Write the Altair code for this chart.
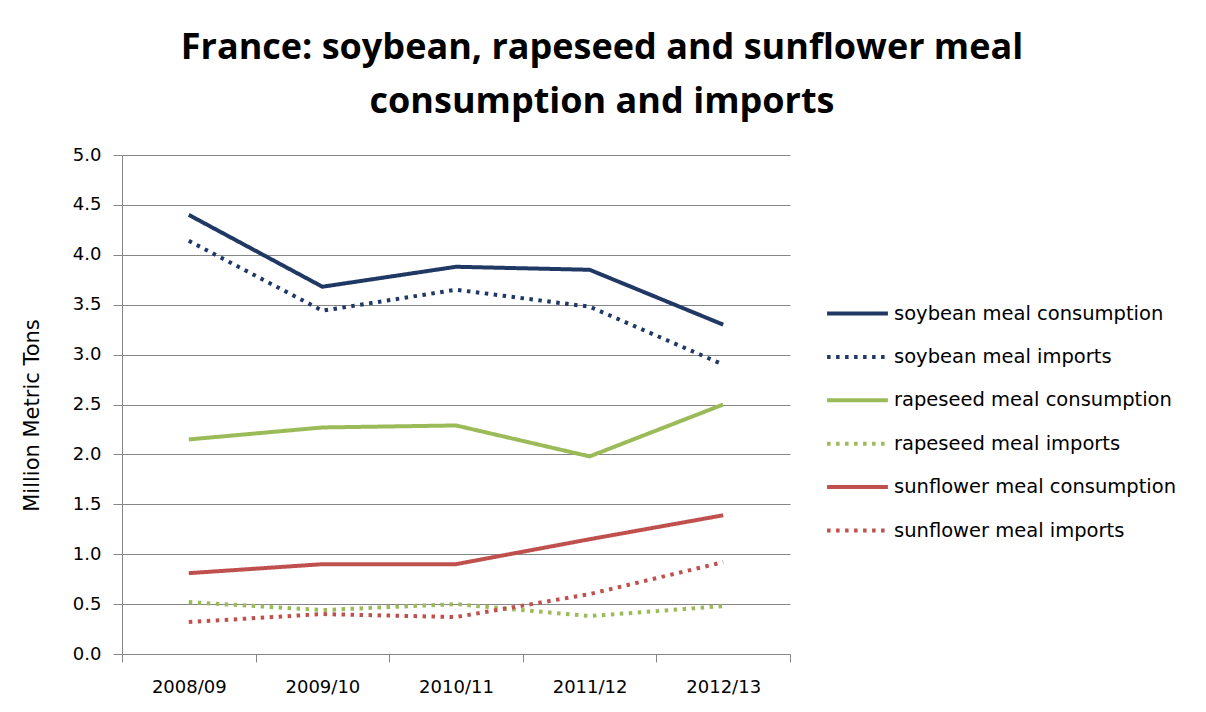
import altair as alt
import pandas as pd

years = ["2008/09", "2009/10", "2010/11", "2011/12", "2012/13"]
series_names = [
    "soybean meal consumption",
    "soybean meal imports",
    "rapeseed meal consumption",
    "rapeseed meal imports",
    "sunflower meal consumption",
    "sunflower meal imports",
]
soy_cons = [4.40, 3.68, 3.88, 3.85, 3.30]
soy_imp = [4.14, 3.44, 3.65, 3.48, 2.90]
rape_cons = [2.15, 2.27, 2.29, 1.98, 2.50]
rape_imp = [0.52, 0.44, 0.50, 0.38, 0.48]
sun_cons = [0.81, 0.90, 0.90, 1.15, 1.39]
sun_imp = [0.32, 0.40, 0.37, 0.60, 0.92]

colors = ["#203864", "#203864", "#9BBB59", "#9BBB59", "#C0504D", "#C0504D"]
dashes = [[1, 0], [3.5, 5.5], [1, 0], [3.5, 5.5], [1, 0], [3.5, 5.5]]

all_vals = [soy_cons, soy_imp, rape_cons, rape_imp, sun_cons, sun_imp]
rows = []
for name, vals in zip(series_names, all_vals):
    for yr, v in zip(years, vals):
        rows.append({"year": yr, "series": name, "value": v})
df = pd.DataFrame(rows)

label_font = "DejaVu Sans"

legend_cfg = dict(
    title=None,
    orient="none",
    legendX=703,
    legendY=126,
    symbolType="stroke",
    symbolStrokeWidth=4,
    symbolSize=3700,
    labelFontSize=19.5,
    labelFont=label_font,
    labelColor="#000000",
    labelLimit=400,
    rowPadding=1.4,
    labelOffset=4,
)

chart = (
    alt.Chart(df)
    .mark_line(strokeWidth=4, strokeCap="butt", strokeJoin="round")
    .encode(
        x=alt.X(
            "year:N",
            sort=years,
            scale=alt.Scale(type="band", paddingInner=0, paddingOuter=0),
            axis=alt.Axis(
                title=None,
                labelAngle=0,
                tickBand="extent",
                grid=False,
                domain=False,
                ticks=True,
                tickSize=8,
                tickColor="#868686",
                labelPadding=16,
            ),
        ),
        y=alt.Y(
            "value:Q",
            scale=alt.Scale(domain=[0, 5], nice=False),
            axis=alt.Axis(
                title="Million Metric Tons",
                values=[0, 0.5, 1, 1.5, 2, 2.5, 3, 3.5, 4, 4.5, 5],
                format=".1f",
                grid=True,
                gridColor="#868686",
                gridWidth=1,
                domainColor="#868686",
                tickColor="#868686",
                tickSize=9,
                labelPadding=12,
                titlePadding=30,
                titleY=260,
                titleFontWeight="normal",
                titleFontSize=21,
            ),
        ),
        color=alt.Color(
            "series:N",
            sort=series_names,
            scale=alt.Scale(domain=series_names, range=colors),
            legend=alt.Legend(**legend_cfg),
        ),
        strokeDash=alt.StrokeDash(
            "series:N",
            sort=series_names,
            scale=alt.Scale(domain=series_names, range=dashes),
            legend=alt.Legend(**legend_cfg),
        ),
    )
    .properties(
        width=668,
        height=499,
        title=alt.TitleParams(
            text=["France: soybean, rapeseed and sunflower meal", "consumption and imports"],
            font="Open Sans",
            fontSize=36,
            fontWeight="bold",
            color="#000000",
            anchor="middle",
            dx=146,
            lineHeight=54,
            offset=25,
        ),
        autosize=alt.AutoSizeParams(type="none"),
        padding={"left": 122, "top": 155, "right": 416, "bottom": 58},
        background="white",
    )
    .configure_view(stroke=None)
    .configure_axis(
        labelFont=label_font,
        labelFontSize=18,
        labelColor="#000000",
        titleFont=label_font,
        titleColor="#000000",
    )
)

chart.save("out.html", embed_options={"renderer": "svg", "actions": False})
